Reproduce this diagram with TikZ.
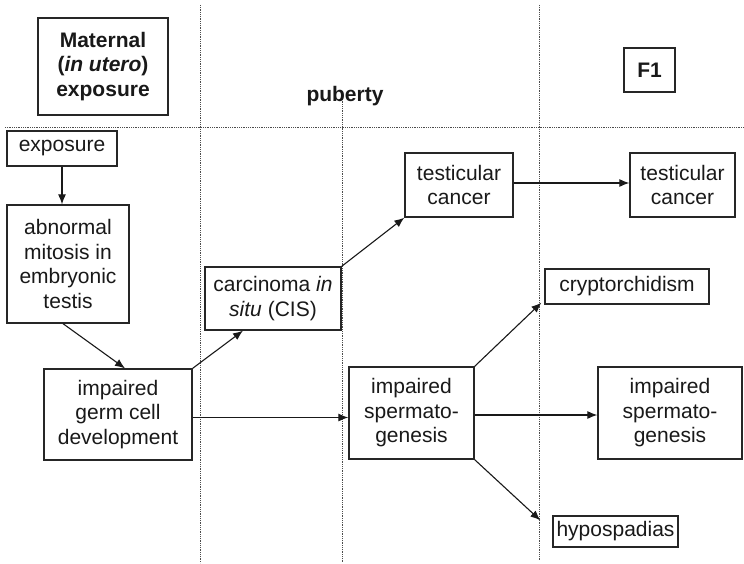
\documentclass[tikz,border=0pt]{standalone}
\usepackage{fontspec}
\setmainfont{Liberation Sans}
\usetikzlibrary{arrows.meta,calc}
\begin{document}
\begin{tikzpicture}[x=1pt,y=-1pt,
  txt/.style={font=\fontsize{21}{24.5}\selectfont, text=black!90, align=center, inner sep=0pt},
  box/.style={txt, draw=black!85, line width=1.3pt},
  arr/.style={draw=black!90, line width=1.1pt, -{Latex[length=10pt,width=8pt]}},
  sep/.style={draw=black!70, line width=0.8pt, dash pattern=on 0.9pt off 0.9pt}]
\useasboundingbox[fill=white] (0,0) rectangle (744,563);
% separators
\coordinate (h1) at (5,127);  \coordinate (h2) at (744,127);
\coordinate (v1t) at (200,5); \coordinate (v1b) at (200,563);
\coordinate (v2t) at (342,97); \coordinate (v2b) at (342,563);
\coordinate (v3t) at (539,5); \coordinate (v3b) at (539,560);
\draw[sep] (h1) -- (h2);
\draw[sep] (v1t) -- (v1b);
\draw[sep] (v2t) -- (v2b);
\draw[sep] (v3t) -- (v3b);
% headers
\node[box, minimum width=130, minimum height=97, font=\fontsize{21}{24.5}\selectfont\bfseries] (mat) at (103,66.5) {Maternal\\(\textit{in utero})\\exposure};
\node[txt, font=\fontsize{21}{24.5}\selectfont\bfseries] (pub) at (345,96) {puberty};
\node[box, minimum width=51, minimum height=44, font=\fontsize{21}{24.5}\selectfont\bfseries] (f1) at (649.5,70) {F1};
% boxes
\node[box, minimum width=110, minimum height=35] (exp) at (62,148.5) {exposure};
\node[box, minimum width=122, minimum height=118] (abn) at (68,264) {abnormal\\mitosis in\\embryonic\\testis};
\node[box, minimum width=148, minimum height=91] (germ) at (118,414.5) {impaired\\germ cell\\development};
\node[box, minimum width=136, minimum height=63] (cis) at (273,298.5) {carcinoma \textit{in}\\\textit{situ} (CIS)};
\node[box, minimum width=108, minimum height=64] (tca) at (459,185) {testicular\\cancer};
\node[box, minimum width=105, minimum height=64] (tcb) at (682.5,185) {testicular\\cancer};
\node[box, minimum width=164, minimum height=35] (cry) at (627,286.5) {cryptorchidism};
\node[box, minimum width=125, minimum height=92] (spa) at (411.5,413) {impaired\\spermato-\\genesis};
\node[box, minimum width=144, minimum height=92] (spb) at (670,413) {impaired\\spermato-\\genesis};
\node[box, minimum width=125, minimum height=31] (hyp) at (615.5,531.5) {hypospadias};
% arrows
\draw[arr] (exp.south) -- (exp.south |- abn.north);
\draw[arr] ([xshift=-5]abn.south) -- ([xshift=7]germ.north);
\draw[arr] (germ.north east) -- ([xshift=-30]cis.south);
\draw[arr] ([yshift=-3]germ.east) -- ([yshift=-3]germ.east -| spa.west);
\draw[arr] (cis.north east) -- (tca.south west);
\draw[arr] ([yshift=2]tca.east) -- ([yshift=2]tcb.west);
\draw[arr] (spa.north east) -- ([xshift=-3,yshift=2]cry.south west);
\draw[arr] ([yshift=-2]spa.east) -- ([yshift=-2]spb.west);
\draw[arr] (spa.south east) -- ([xshift=-12,yshift=-5]hyp.north west);
\end{tikzpicture}
\end{document}
